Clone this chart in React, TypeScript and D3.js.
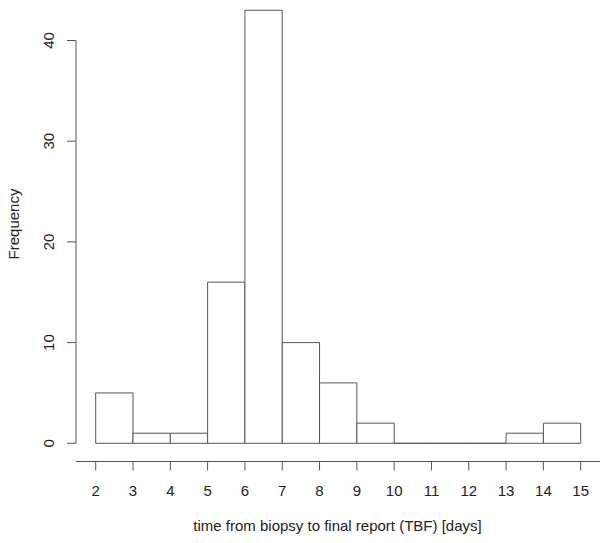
import React from 'react'
import * as d3 from 'd3'

const binStarts = [2, 3, 4, 5, 6, 7, 8, 9, 10, 11, 12, 13, 14]
const counts = [5, 1, 1, 16, 43, 10, 6, 2, 0, 0, 0, 1, 2]
const xTicks = [2, 3, 4, 5, 6, 7, 8, 9, 10, 11, 12, 13, 14, 15]
const yTicks = [0, 10, 20, 30, 40]

const W = 600
const H = 543
const stroke = '#555'
const font = '"Liberation Sans", Arial, sans-serif'
const fs = 15

const App = () => {
    const x = d3.scaleLinear().domain([2, 15]).range([95.7, 580.7])
    const y = d3.scaleLinear().domain([0, 40]).range([443.3, 40.5])
    const axisY = 461.5
    const axisX = 76

    return (
        <svg width={W} height={H} style={{ position: 'absolute', left: 0, top: 0 }}>
            <rect width={W} height={H} fill="#fff" />
            {binStarts.map((b, i) => {
                const x0 = x(b), x1 = x(b + 1), y0 = y(0), y1 = y(counts[i])
                // R draws empty bins as a flat line, so use a path not a rect
                return (
                    <path key={i}
                        d={`M${x0},${y0}V${y1}H${x1}V${y0}Z`}
                        fill="#fff" stroke={stroke} strokeWidth={1} />
                )
            })}
            {/* x axis */}
            <line x1={axisX} x2={W} y1={axisY} y2={axisY} stroke={stroke} />
            {xTicks.map(t => (
                <g key={t} transform={`translate(${x(t)},${axisY})`}>
                    <line y1={0} y2={9} stroke={stroke} />
                    <text y={34} textAnchor="middle" fontFamily={font} fontSize={fs} fill="#222">{t}</text>
                </g>
            ))}
            {/* y axis */}
            <line x1={axisX} x2={axisX} y1={y(0)} y2={y(40)} stroke={stroke} />
            {yTicks.map(t => (
                <g key={t} transform={`translate(${axisX},${y(t)})`}>
                    <line x1={0} x2={-9} stroke={stroke} />
                    <text transform="translate(-22,0) rotate(-90)" textAnchor="middle" fontFamily={font} fontSize={fs} fill="#222">{t}</text>
                </g>
            ))}
            <text x={337.5} y={531} textAnchor="middle" fontFamily={font} fontSize={fs} fill="#222">
                time from biopsy to final report (TBF) [days]
            </text>
            <text transform="translate(18.5,224) rotate(-90)" textAnchor="middle" fontFamily={font} fontSize={fs} fill="#222">
                Frequency
            </text>
        </svg>
    )
}

export default App
